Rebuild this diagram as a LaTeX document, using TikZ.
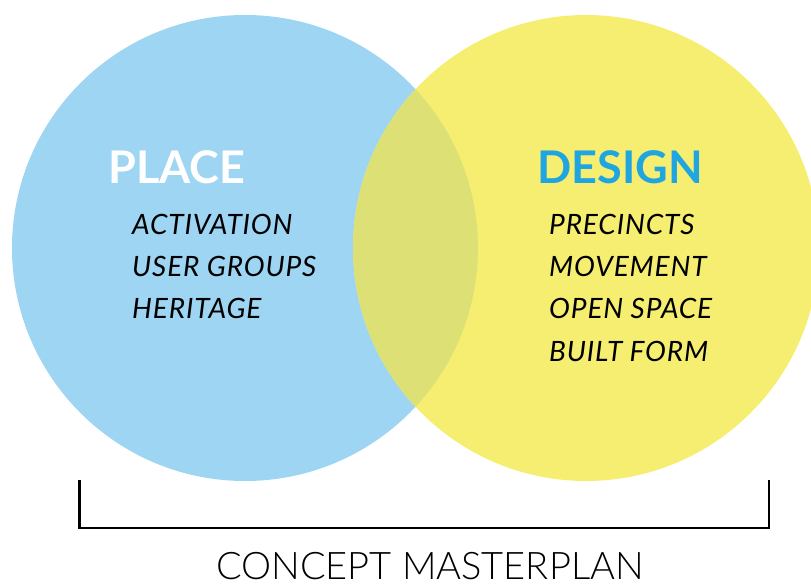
\documentclass[tikz,border=0pt]{standalone}
\usepackage{fontspec}
\setmainfont{Lato}
\newfontfamily\lightfont{Lato Light}
\newfontfamily\itemfont[LetterSpace=3]{Lato Italic}
\definecolor{placeblue}{HTML}{9DD5F2}
\definecolor{designyellow}{HTML}{F5EE71}
\definecolor{overlapgreen}{HTML}{DDE175}
\definecolor{titleblue}{HTML}{1FA6E0}
\begin{document}
\begin{tikzpicture}[x=1pt,y=-1pt,
  heading/.style={anchor=base west,inner sep=0pt,font=\fontsize{45}{45}\selectfont\bfseries},
  item/.style={anchor=base west,inner sep=0pt,font=\itemfont\fontsize{28}{28}\selectfont},
  caption/.style={anchor=base,inner sep=0pt,font=\lightfont\fontsize{38}{38}\selectfont}]
\useasboundingbox (0,0) rectangle (811,585);
% the two sets and their overlap
\fill[placeblue] (245,248) circle (233);
\fill[designyellow] (586,248) circle (233);
\begin{scope}
  \clip (245,248) circle (233);
  \fill[overlapgreen] (586,248) circle (233);
\end{scope}
% set titles
\node[heading,text=white] (place) at (108,184) {PLACE};
\node[heading,text=titleblue] (design) at (537,184) {DESIGN};
% place items
\node[item] (activation) at (132,235) {ACTIVATION};
\node[item] (usergroups) at (132,277) {USER GROUPS};
\node[item] (heritage) at (132,319) {HERITAGE};
% design items
\node[item] (precincts) at (549,235) {PRECINCTS};
\node[item] (movement) at (549,277) {MOVEMENT};
\node[item] (openspace) at (549,319) {OPEN SPACE};
\node[item] (builtform) at (549,361) {BUILT FORM};
% bracket spanning both sets
\coordinate (bl) at (79.5,480);
\coordinate (br) at (769,480);
\draw[line width=2.6pt,line join=miter] (bl) |- (br |- 0,528) -- (br);
\node[caption] (concept) at (430,579) {CONCEPT MASTERPLAN};
\end{tikzpicture}
\end{document}
